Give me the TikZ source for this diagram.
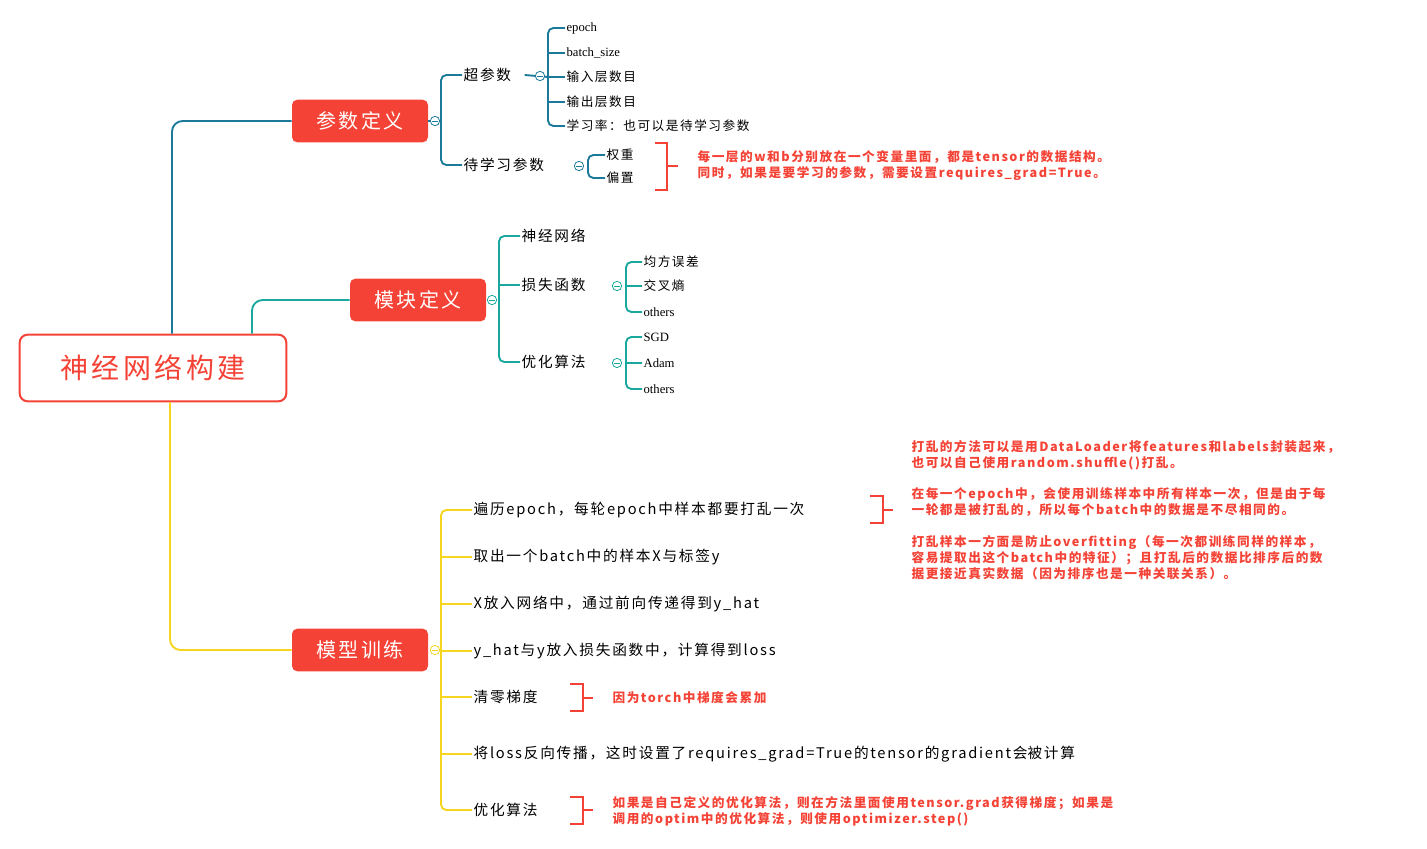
\documentclass[tikz,border=0pt]{standalone}
\usepackage{fontspec}
\setmainfont{Noto Sans CJK SC}[LetterSpace=12]
\newfontfamily\latfont{Liberation Serif}
\usetikzlibrary{positioning}
\definecolor{mmred}{HTML}{F44336}
\definecolor{brA}{HTML}{1B7A9A}
\definecolor{brB}{HTML}{19A89D}
\definecolor{brC}{HTML}{F7D51D}
\tikzset{
  topic/.style={fill=mmred,text=white,rounded corners=4pt,minimum width=102pt,minimum height=32pt,font=\fontsize{15}{15}\selectfont},
  item/.style={anchor=west,inner sep=1pt,font=\fontsize{11}{13}\selectfont},
  leaf/.style={anchor=west,inner sep=1pt,font=\fontsize{9.5}{11}\selectfont},
  note/.style={anchor=west,inner sep=1pt,text=mmred,align=left,font=\bfseries\fontsize{9.5}{12}\selectfont},
  spine/.style={line width=1.4pt,rounded corners=4pt},
  knob/.style={circle,draw,fill=white,line width=0.6pt,inner sep=0pt,minimum size=7pt},
  brk/.style={draw=mmred,line width=2.2pt}
}
\newcommand{\knobmark}[2]{\node[knob,draw=#1] at (#2) {}; \draw[#1,line width=0.6pt] ([xshift=-2pt]#2) -- ([xshift=2pt]#2);}
\begin{document}
\begin{tikzpicture}[x=0.75pt,y=-0.75pt]
\useasboundingbox (0,0) rectangle (1427,849);

% root and main topics
\node[draw=mmred,line width=1.5pt,fill=white,text=mmred,rounded corners=6pt,minimum width=200pt,minimum height=50pt,font=\fontsize{21}{21}\selectfont] (root) at (153,368) {神经网络构建};
\node[topic] (param) at (360,121) {参数定义};
\node[topic] (module) at (418,300) {模块定义};
\node[topic] (train) at (360,650) {模型训练};

\draw[brA,line width=1.4pt,rounded corners=8pt] (root.north -| 172,0) |- (param.west);
\draw[brB,line width=1.4pt,rounded corners=8pt] (root.north -| 252,0) |- (module.west);
\draw[brC,line width=1.4pt,rounded corners=8pt] (root.south -| 170,0) |- (train.west);

% param definition
\node[item] (hyper) at (462,75) {超参数};
\node[item] (learn) at (462,165) {待学习参数};
\draw[brA,spine] (hyper.west) -| (441,121) |- (learn.west);
\draw[brA,line width=1.4pt] (param.east) -- (441,121);
\knobmark{brA}{435,121}

\node[leaf] (epoch) at (565,28) {\latfont epoch};
\node[leaf] (bsize) at (565,53) {\latfont batch\_size};
\node[leaf] (inl) at (565,77) {输入层数目};
\node[leaf] (outl) at (565,102) {输出层数目};
\node[leaf] (lr) at (565,126) {学习率：也可以是待学习参数};
\draw[brA,spine] (epoch.west) -| (548,77) |- (lr.west);
\foreach \n in {bsize,inl,outl} \draw[brA,line width=1.4pt] (\n.west) -- (\n.west -| 548,0);
\draw[brA,line width=1.4pt] (hyper.east) ++(12,0) -- (548,77);
\knobmark{brA}{540,76}

\node[leaf] (weight) at (605,155) {权重};
\node[leaf] (bias) at (605,178) {偏置};
\draw[brA,spine] (weight.west) -| (588,166) |- (bias.west);
\knobmark{brA}{579,166}
\draw[brk] (655,143) -- (667,143) -- (667,190) -- (655,190) (667,166) -- (678,166);
\node[note] (wnote) at (696,166) {每一层的w和b分别放在一个变量里面，都是tensor的数据结构。\\同时，如果是要学习的参数，需要设置requires\_grad=True。};

% module definition
\node[item] (net) at (520,236) {神经网络};
\node[item] (loss) at (520,285) {损失函数};
\node[item] (optim) at (520,362) {优化算法};
\draw[brB,spine] (net.west) -| (499,300) |- (optim.west);
\draw[brB,line width=1.4pt] (loss.west) -- (loss.west -| 499,0);
\knobmark{brB}{492,300}

\node[leaf] (mse) at (642,262) {均方误差};
\node[leaf] (ce) at (642,286) {交叉熵};
\node[leaf] (oth1) at (642,312) {\latfont others};
\draw[brB,spine] (mse.west) -| (626,286) |- (oth1.west);
\draw[brB,line width=1.4pt] (ce.west) -- (ce.west -| 626,0);
\knobmark{brB}{617,286}

\node[leaf] (sgd) at (642,337) {\latfont SGD};
\node[leaf] (adam) at (642,363) {\latfont Adam};
\node[leaf] (oth2) at (642,389) {\latfont others};
\draw[brB,spine] (sgd.west) -| (626,363) |- (oth2.west);
\draw[brB,line width=1.4pt] (adam.west) -- (adam.west -| 626,0);
\knobmark{brB}{617,363}

% model training
\node[item] (s1) at (472,510) {遍历epoch，每轮epoch中样本都要打乱一次};
\node[item] (s2) at (472,557) {取出一个batch中的样本X与标签y};
\node[item] (s3) at (472,604) {X放入网络中，通过前向传递得到y\_hat};
\node[item] (s4) at (472,651) {y\_hat与y放入损失函数中，计算得到loss};
\node[item] (s5) at (472,697) {清零梯度};
\node[item] (s6) at (472,754) {将loss反向传播，这时设置了requires\_grad=True的tensor的gradient会\\被计算};
\node[item] (s7) at (472,810) {优化算法};
\node[item,align=left] at (s6.west) [anchor=west] {};
\draw[brC,spine] (s1.west) -| (441,650) |- (s7.west);
\foreach \n in {s2,s3,s4,s5,s6} \draw[brC,line width=1.4pt] (\n.west) -- (\n.west -| 441,0);
\knobmark{brC}{435,650}

\draw[brk] (870,496) -- (883,496) -- (883,523) -- (870,523) (883,510) -- (893,510);
\node[note] (n1) at (910,455) {打乱的方法可以是用DataLoader将features和labels封装起来，\\也可以自己使用random.shuffle()打乱。};
\node[note] (n2) at (910,502) {在每一个epoch中，会使用训练样本中所有样本一次，但是由于每\\一轮都是被打乱的，所以每个batch中的数据是不尽相同的。};
\node[note] (n3) at (910,558) {打乱样本一方面是防止overfitting（每一次都训练同样的样本，\\容易提取出这个batch中的特征）；且打乱后的数据比排序后的数\\据更接近真实数据（因为排序也是一种关联关系）。};

\draw[brk] (570,684) -- (583,684) -- (583,711) -- (570,711) (583,698) -- (593,698);
\node[note] (n4) at (611,698) {因为torch中梯度会累加};
\draw[brk] (570,797) -- (583,797) -- (583,824) -- (570,824) (583,810) -- (593,810);
\node[note] (n5) at (611,811) {如果是自己定义的优化算法，则在方法里面使用tensor.grad获得梯度；如果是\\调用的optim中的优化算法，则使用optimizer.step()};
\end{tikzpicture}
\end{document}
